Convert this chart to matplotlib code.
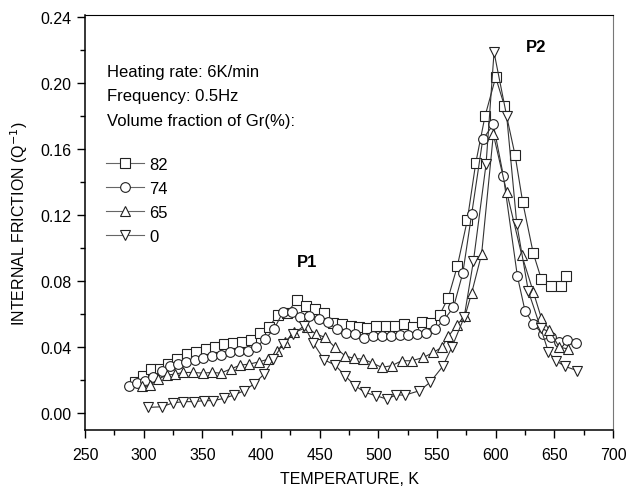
import matplotlib
matplotlib.use("Agg")
import matplotlib.pyplot as plt
from matplotlib.ticker import MultipleLocator, FormatStrFormatter

plt.rcParams['font.family'] = ['Liberation Sans', 'DejaVu Sans']

# volume fraction of Gr = 82 %
t82 = [292.6, 299.7, 306.2, 313.9, 321, 328.7, 336.6, 344.6, 353, 360.8, 368.5, 375.9,
       383.5, 391.2, 399.2, 406.9, 414.3, 422, 430.4, 438.4, 446, 453.7, 461.1, 468.8,
       476.3, 483.4, 490.5, 498.2, 506.2, 514.1, 521.8, 529.5, 537.5, 544.6, 552.3, 559.6,
       567.3, 575.8, 583, 590.9, 600, 607.4, 616.5, 623, 632, 639, 647, 655.4, 660]
q82 = [0.019, 0.0226, 0.027, 0.027, 0.030, 0.0327, 0.0358, 0.037, 0.0386, 0.040, 0.0416, 0.0424,
       0.0428, 0.0442, 0.0483, 0.0523, 0.0596, 0.0604, 0.0685, 0.065, 0.063, 0.0606, 0.0543, 0.054,
       0.053, 0.052, 0.0513, 0.053, 0.053, 0.053, 0.054, 0.052, 0.0555, 0.0545, 0.0596, 0.070,
       0.089, 0.117, 0.1516, 0.180, 0.2036, 0.1864, 0.1565, 0.128, 0.097, 0.081, 0.077, 0.0768, 0.083]

# 74 %
t74 = [287.8, 294, 301, 308, 315.3, 322.4, 329.5, 336, 343.8, 350.9, 358.5, 365.9, 373.6,
       381.5, 388.6, 395.7, 403.4, 411.1, 418.5, 426.2, 433.3, 441.3, 449, 456.9, 464.6, 472.6,
       480.1, 487.8, 495.2, 502.9, 510.5, 518.5, 525.6, 533.3, 540.7, 548.4, 556, 564, 572,
       579.6, 589, 598, 606.5, 618.5, 625, 632, 640, 647, 654, 660.5, 668.5]
q74 = [0.0166, 0.018, 0.0196, 0.022, 0.0257, 0.0283, 0.0297, 0.0307, 0.0321, 0.0331, 0.0343, 0.0351, 0.0368,
       0.0378, 0.0378, 0.0398, 0.0448, 0.0509, 0.061, 0.061, 0.058, 0.059, 0.057, 0.055, 0.0509, 0.0483,
       0.0479, 0.0455, 0.0469, 0.0469, 0.0469, 0.0473, 0.0473, 0.0479, 0.0485, 0.0509, 0.0566, 0.064, 0.085,
       0.121, 0.166, 0.175, 0.144, 0.083, 0.062, 0.054, 0.048, 0.0463, 0.0433, 0.0443, 0.0425]

# 65 %
t65 = [298.3, 305.4, 312.5, 319.6, 326.7, 333.8, 342.3, 350.3, 358, 365.6, 374.1, 382.1,
       390.1, 398.6, 406.3, 413.9, 420.5, 428.2, 439, 446.9, 454.6, 463.1, 471.6, 479.3,
       487.2, 494.9, 502.9, 511.4, 519.9, 528.4, 538.4, 546.9, 554, 559.7, 566.8, 573.9,
       579.6, 588, 598, 609.4, 622.2, 632, 639, 645.7, 654, 662]
q65 = [0.0166, 0.017, 0.0206, 0.023, 0.0236, 0.0246, 0.0246, 0.0242, 0.0246, 0.0242, 0.0267, 0.029,
       0.0297, 0.0311, 0.0327, 0.0378, 0.0432, 0.0489, 0.0519, 0.0479, 0.0459, 0.0398, 0.0347, 0.0331,
       0.0327, 0.0303, 0.0277, 0.0287, 0.0317, 0.0317, 0.0337, 0.0368, 0.0398, 0.0465, 0.0533, 0.059,
       0.073, 0.0964, 0.169, 0.134, 0.0958, 0.0736, 0.0574, 0.0505, 0.040, 0.0388]

# 0 %
t0 = [304, 315.4, 324.7, 333.8, 342.9, 351.4, 359.4, 368.5, 377, 385.5, 394, 402.6, 410.5,
      418.5, 427.6, 436.7, 444.6, 453.7, 463.1, 471.6, 480.1, 488.6, 498, 507.1, 515.1, 522.8,
      535, 544.1, 554.9, 562.6, 573.1, 581, 591.8, 598.6, 609.4, 618, 627.8, 638.4, 645,
      651.4, 659, 669.6]
q0 = [0.0034, 0.0038, 0.0061, 0.0069, 0.0069, 0.0075, 0.0075, 0.0089, 0.0109, 0.0135, 0.0176, 0.0236, 0.0327,
      0.0418, 0.0479, 0.0529, 0.0424, 0.0323, 0.0291, 0.0226, 0.0166, 0.0125, 0.0105, 0.0085, 0.0109, 0.0109,
      0.0135, 0.0186, 0.0283, 0.0398, 0.058, 0.092, 0.151, 0.2188, 0.180, 0.1146, 0.074, 0.0514, 0.037,
      0.0317, 0.0283, 0.0257]

labels = ['82', '74', '65', '0']
markers = ['s', 'o', '^', 'v']

fig = plt.figure(figsize=(6.27, 4.89), dpi=100)
ax = fig.add_axes([0.1356, 0.1186, 0.8421, 0.8487])

for t, q, m, lab in zip([t82, t74, t65, t0], [q82, q74, q65, q0], markers, labels):
    ax.plot(t, q, color='#333333', lw=0.8, marker=m, markersize=7,
            markerfacecolor='white', markeredgecolor='#222222', markeredgewidth=0.8,
            label=lab)

ax.set_xlim(250, 700)
ax.set_ylim(-0.0103, 0.2414)
ax.xaxis.set_major_locator(MultipleLocator(50))
ax.xaxis.set_minor_locator(MultipleLocator(25))
ax.yaxis.set_major_locator(MultipleLocator(0.04))
ax.yaxis.set_minor_locator(MultipleLocator(0.02))
ax.yaxis.set_major_formatter(FormatStrFormatter('%.2f'))
ax.tick_params(which='major', direction='out', length=6, width=1, labelsize=11.5, pad=4)
ax.tick_params(axis='x', which='major', pad=6)
ax.tick_params(which='minor', direction='out', length=3.5, width=1)
ax.tick_params(top=False, right=False, which='both')
for s in ['left', 'bottom']:
    ax.spines[s].set_linewidth(1.1)
for s in ['top', 'right']:
    ax.spines[s].set_linewidth(0.8)
ax.spines['right'].set_color('#777777')

ax.set_xlabel('TEMPERATURE, K', fontsize=11.5, labelpad=7)
ax.set_ylabel('INTERNAL FRICTION (Q$^{-1}$)', fontsize=11.5, labelpad=7)

ax.text(0.042, 0.865, 'Heating rate: 6K/min', transform=ax.transAxes, fontsize=12, va='center')
ax.text(0.042, 0.805, 'Frequency: 0.5Hz', transform=ax.transAxes, fontsize=12, va='center')
ax.text(0.042, 0.745, 'Volume fraction of Gr(%):', transform=ax.transAxes, fontsize=12, va='center')

ax.text(439, 0.0916, 'P1', fontsize=12, fontweight='bold', ha='center', va='center')
ax.text(634, 0.222, 'P2', fontsize=12, fontweight='bold', ha='center', va='center')

leg = ax.legend(loc='upper left', bbox_to_anchor=(0.011, 0.695), frameon=False,
                fontsize=12, handlelength=2.3, handletextpad=0.3, labelspacing=0.55)
for h in leg.legend_handles:
    h.set_color('#666666')
    h.set_markeredgecolor('#222222')

fig.savefig('out.png', dpi=100)
